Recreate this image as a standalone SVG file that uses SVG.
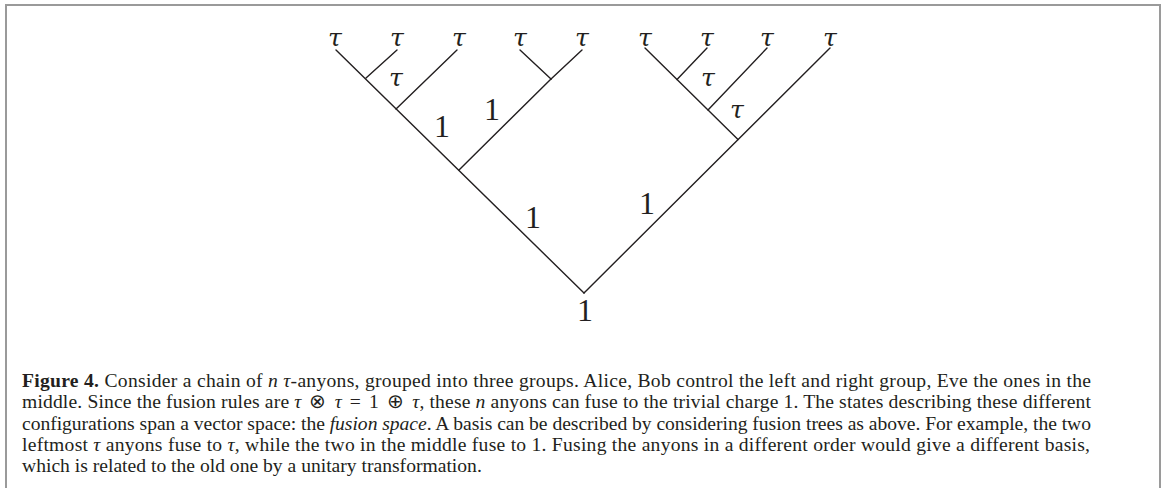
<svg xmlns="http://www.w3.org/2000/svg" width="1165" height="488" viewBox="0 0 1165 488">
<style>
.edge{stroke:#231f20;stroke-width:1.4;fill:none;stroke-linecap:round}
.tau{font-family:"DejaVu Serif","Liberation Serif",serif;font-style:italic;font-size:25px;fill:#231f20;text-anchor:middle}
.one{font-family:"Liberation Serif",serif;font-size:32px;fill:#231f20;text-anchor:middle}
.cap{font-family:"Liberation Serif",serif;font-size:19.6px;fill:#231f20}
.b{font-weight:bold}
.i{font-style:italic}
</style>
<rect width="1165" height="488" fill="#fff"/>
<path d="M6,488 V5 H1160 V488" fill="none" stroke="#9a9a9a" stroke-width="2"/>
<g id="connectors">
<line class="edge" x1="584" y1="293" x2="336" y2="50"/>
<line class="edge" x1="584" y1="293" x2="830" y2="48"/>
<line class="edge" x1="366" y1="78" x2="397" y2="50"/>
<line class="edge" x1="396" y1="109" x2="457" y2="50"/>
<line class="edge" x1="459" y1="170" x2="551" y2="79"/>
<line class="edge" x1="551" y1="79" x2="520" y2="50"/>
<line class="edge" x1="551" y1="79" x2="582" y2="50"/>
<line class="edge" x1="738" y1="139.5" x2="645" y2="48"/>
<line class="edge" x1="708" y1="110" x2="767" y2="48"/>
<line class="edge" x1="677" y1="79.5" x2="707" y2="48"/>
</g>
<g id="leaves">
<text class="tau" x="335" y="46">τ</text>
<text class="tau" x="397" y="46">τ</text>
<text class="tau" x="459" y="46">τ</text>
<text class="tau" x="520" y="46">τ</text>
<text class="tau" x="582" y="46">τ</text>
<text class="tau" x="645" y="46">τ</text>
<text class="tau" x="707" y="46">τ</text>
<text class="tau" x="767" y="46">τ</text>
<text class="tau" x="830" y="46">τ</text>
</g>
<g id="internal-labels">
<text class="tau" x="396" y="86">τ</text>
<text class="tau" x="708" y="86">τ</text>
<text class="tau" x="737" y="118">τ</text>
<text class="one" x="442" y="137">1</text>
<text class="one" x="492" y="120">1</text>
<text class="one" x="533" y="228">1</text>
<text class="one" x="647" y="214">1</text>
</g>
<g id="root">
<text class="one" x="585" y="321">1</text>
</g>
<g id="caption">
<text class="cap" x="22" y="387" textLength="1069" lengthAdjust="spacing"><tspan class="b">Figure 4.</tspan> Consider a chain of <tspan class="i">n</tspan> <tspan class="i">τ</tspan>-anyons, grouped into three groups. Alice, Bob control the left and right group, Eve the ones in the</text>
<text class="cap" x="22" y="408.3" textLength="1069" lengthAdjust="spacing">middle. Since the fusion rules are <tspan class="i">τ</tspan> <tspan dx="3">⊗</tspan> <tspan class="i" dx="3">τ</tspan> <tspan dx="3">=</tspan> <tspan dx="3">1</tspan> <tspan dx="3">⊕</tspan> <tspan class="i" dx="3">τ</tspan>, these <tspan class="i">n</tspan> anyons can fuse to the trivial charge 1. The states describing these different</text>
<text class="cap" x="22" y="429.5" textLength="1069" lengthAdjust="spacing">configurations span a vector space: the <tspan class="i">fusion space</tspan>. A basis can be described by considering fusion trees as above. For example, the two</text>
<text class="cap" x="22" y="450.7" textLength="1068" lengthAdjust="spacing">leftmost <tspan class="i">τ</tspan> anyons fuse to <tspan class="i">τ</tspan>, while the two in the middle fuse to 1. Fusing the anyons in a different order would give a different basis,</text>
<text class="cap" x="22" y="472">which is related to the old one by a unitary transformation.</text>
</g>
</svg>
